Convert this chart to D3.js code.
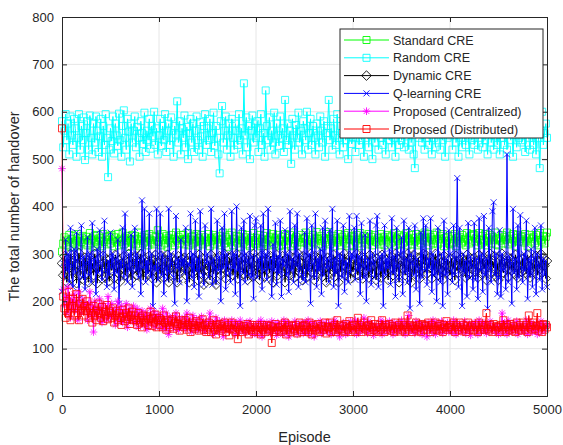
<!DOCTYPE html>
<html>
<head>
<meta charset="utf-8">
<script src="https://cdn.jsdelivr.net/npm/d3@7"></script>
<style>
  body { margin: 0; background: #fff; }
  text { font-family: "Liberation Sans", Arial, sans-serif; fill: #262626; }
</style>
</head>
<body>
<div id="chart"></div>
<script>
// episodes sampled every 12.5 (401 points)
var episodes = d3.range(401).map(i => i * 12.5);

var standardCRE = [
  305, 322, 335, 318, 330, 326, 340, 315, 332, 324, 338, 320, 328, 342, 316, 334, 325, 338, 322, 330,
  336, 318, 328, 344, 322, 332, 315, 338, 326, 340, 320, 334, 328, 316, 342, 325, 336, 320, 330, 338,
  322, 340, 328, 316, 335, 324, 342, 318, 330, 326, 345, 320, 334, 328, 338, 315, 332, 326, 340, 322,
  338, 320, 332, 345, 316, 328, 336, 322, 340, 326, 334, 318, 342, 330, 324, 338, 320, 335, 328, 350,
  325, 335, 318, 342, 330, 322, 338, 315, 334, 328, 340, 324, 332, 318, 345, 328, 336, 322, 340, 330,
  340, 320, 332, 326, 344, 318, 330, 336, 322, 338, 326, 342, 316, 334, 328, 340, 320, 335, 324, 330,
  326, 342, 316, 334, 328, 340, 320, 335, 324, 330, 338, 318, 332, 345, 322, 336, 328, 315, 340, 326,
  345, 318, 332, 326, 338, 322, 336, 315, 330, 342, 324, 335, 320, 340, 328, 316, 334, 326, 344, 322,
  320, 334, 328, 340, 316, 332, 325, 338, 322, 344, 330, 318, 336, 326, 342, 320, 334, 328, 340, 316,
  330, 318, 336, 326, 342, 320, 334, 328, 340, 316, 332, 345, 322, 336, 318, 330, 326, 340, 324, 334,
  332, 345, 322, 336, 318, 330, 326, 340, 324, 334, 346, 320, 332, 328, 338, 316, 334, 324, 342, 330,
  346, 320, 332, 328, 338, 316, 334, 324, 342, 330, 318, 336, 326, 340, 322, 332, 344, 316, 330, 338,
  318, 336, 326, 340, 322, 332, 344, 316, 330, 338, 324, 334, 320, 342, 328, 336, 318, 330, 340, 326,
  324, 334, 320, 342, 328, 336, 318, 330, 340, 326, 335, 322, 338, 326, 344, 318, 332, 328, 340, 320,
  335, 322, 338, 326, 344, 318, 332, 328, 340, 320, 334, 326, 342, 318, 336, 330, 322, 340, 328, 345,
  334, 326, 342, 318, 336, 330, 322, 340, 328, 345, 320, 332, 338, 324, 342, 316, 334, 328, 336, 322,
  320, 332, 338, 324, 342, 316, 334, 328, 336, 322, 340, 326, 332, 318, 344, 330, 322, 338, 326, 342,
  340, 326, 332, 318, 344, 330, 322, 338, 326, 342, 318, 334, 328, 340, 322, 336, 330, 345, 320, 332,
  318, 334, 328, 340, 322, 336, 330, 345, 320, 332, 338, 324, 342, 328, 316, 334, 340, 326, 332, 336,
  338, 324, 342, 328, 316, 334, 340, 326, 332, 336, 322, 340, 328, 318, 344, 330, 326, 338, 322, 336,
  345
];

var randomCRE = [
  580, 525, 560, 595, 540, 575, 510, 590, 550, 530, 585, 565, 505, 545, 595, 520, 570, 540, 588, 498,
  555, 580, 520, 592, 545, 510, 575, 535, 590, 560, 515, 548, 585, 505, 570, 530, 595, 545, 462, 520,
  565, 538, 590, 512, 575, 550, 528, 596, 540, 505, 570, 603, 545, 520, 585, 558, 495, 575, 535, 560,
  590, 525, 568, 545, 505, 580, 555, 532, 598, 515, 560, 540, 585, 522, 570, 548, 600, 530, 565, 510,
  550, 585, 528, 570, 540, 595, 515, 560, 575, 530, 588, 545, 505, 570, 552, 622, 535, 580, 510, 565,
  545, 592, 525, 568, 500, 555, 585, 535, 575, 515, 560, 590, 540, 520, 578, 548, 505, 570, 595, 530,
  565, 540, 585, 515, 555, 598, 528, 570, 545, 510, 470, 580, 612, 535, 560, 590, 520, 550, 575, 505,
  585, 545, 520, 575, 560, 530, 595, 540, 565, 510, 660, 550, 588, 525, 570, 500, 560, 592, 535, 575,
  545, 580, 515, 565, 595, 530, 555, 505, 645, 570, 540, 588, 520, 560, 535, 598, 510, 575, 550, 528,
  590, 545, 565, 515, 625, 540, 575, 530, 560, 490, 585, 550, 520, 572, 545, 598, 535, 560, 510, 580,
  565, 540, 600, 520, 555, 585, 530, 570, 545, 510, 575, 550, 525, 590, 560, 535, 580, 505, 555, 570,
  625, 540, 565, 520, 585, 550, 530, 595, 545, 510, 570, 555, 525, 588, 540, 565, 500, 578, 550, 532,
  545, 575, 515, 560, 590, 530, 555, 540, 580, 505, 565, 545, 595, 525, 570, 550, 500, 585, 535, 560,
  585, 520, 560, 545, 600, 530, 565, 510, 575, 550, 540, 590, 525, 560, 545, 505, 578, 555, 530, 570,
  540, 590, 525, 560, 548, 575, 520, 595, 535, 560, 510, 481, 560, 575, 545, 590, 615, 535, 555, 520,
  570, 545, 600, 530, 560, 510, 580, 545, 525, 595, 550, 575, 520, 560, 540, 590, 505, 565, 545, 580,
  550, 575, 520, 560, 590, 535, 565, 505, 580, 545, 525, 595, 555, 530, 570, 548, 510, 585, 540, 565,
  530, 595, 555, 520, 575, 545, 600, 525, 565, 540, 580, 510, 555, 590, 535, 560, 520, 575, 548, 530,
  585, 510, 560, 545, 590, 530, 570, 520, 555, 600, 540, 565, 505, 580, 550, 525, 595, 545, 570, 535,
  540, 575, 515, 560, 590, 545, 520, 580, 550, 530, 565, 510, 585, 545, 481, 560, 600, 530, 555, 575,
  545
];

var dynamicCRE = [
  280, 255, 295, 262, 240, 290, 270, 300, 248, 285, 265, 295, 238, 278, 302, 255, 285, 268, 245, 292,
  258, 285, 240, 295, 268, 280, 255, 300, 272, 238, 290, 262, 278, 248, 296, 270, 252, 288, 275, 242,
  290, 265, 282, 248, 298, 275, 260, 288, 242, 280, 270, 295, 255, 285, 262, 300, 275, 245, 290, 268,
  270, 295, 255, 285, 262, 300, 275, 245, 290, 268, 282, 258, 296, 270, 250, 288, 265, 298, 240, 280,
  282, 258, 296, 270, 250, 288, 265, 298, 240, 280, 272, 292, 255, 285, 268, 240, 295, 275, 260, 290,
  272, 292, 255, 285, 268, 240, 295, 275, 260, 290, 265, 285, 245, 298, 272, 258, 290, 235, 280, 268,
  265, 285, 245, 298, 272, 258, 290, 235, 280, 268, 295, 255, 282, 270, 300, 248, 285, 262, 292, 275,
  295, 255, 282, 270, 300, 248, 285, 262, 292, 275, 258, 290, 272, 245, 296, 268, 282, 252, 300, 265,
  258, 290, 272, 245, 296, 268, 282, 252, 300, 265, 285, 260, 295, 275, 240, 290, 270, 298, 255, 282,
  285, 260, 295, 275, 240, 290, 270, 298, 255, 282, 268, 292, 250, 285, 272, 300, 262, 280, 245, 295,
  268, 292, 250, 285, 272, 300, 262, 280, 245, 295, 275, 258, 290, 265, 298, 252, 285, 270, 240, 292,
  275, 258, 290, 265, 298, 252, 285, 270, 240, 292, 262, 288, 275, 300, 255, 282, 268, 295, 248, 278,
  262, 288, 275, 300, 255, 282, 268, 295, 248, 278, 290, 265, 282, 250, 298, 272, 258, 288, 275, 245,
  290, 265, 282, 250, 298, 272, 258, 288, 275, 245, 285, 268, 295, 255, 280, 300, 262, 290, 240, 275,
  285, 268, 295, 255, 280, 300, 262, 290, 240, 275, 298, 258, 282, 270, 292, 248, 285, 265, 300, 272,
  298, 258, 282, 270, 292, 248, 285, 265, 300, 272, 255, 290, 268, 282, 245, 296, 275, 260, 288, 270,
  255, 290, 268, 282, 245, 296, 275, 260, 288, 270, 292, 262, 285, 250, 298, 275, 258, 290, 268, 282,
  292, 262, 285, 250, 298, 275, 258, 290, 268, 282, 245, 288, 272, 300, 260, 285, 270, 295, 252, 280,
  245, 288, 272, 300, 260, 285, 270, 295, 252, 280, 290, 265, 282, 258, 298, 275, 250, 288, 270, 262,
  290, 265, 282, 258, 298, 275, 250, 288, 270, 262, 280, 296, 255, 285, 268, 300, 260, 292, 275, 248,
  285
];

var qlearningCRE = [
  220, 280, 250, 330, 265, 300, 240, 355, 275, 230, 310, 260, 345, 285, 205, 270, 360, 250, 295, 225,
  280, 335, 255, 300, 240, 365, 270, 290, 215, 310, 260, 350, 280, 245, 300, 370, 265, 230, 285, 255,
  345, 270, 300, 225, 290, 260, 330, 195, 285, 270, 355, 250, 385, 275, 240, 300, 265, 340, 230, 280,
  355, 265, 300, 250, 290, 215, 413, 270, 395, 240, 285, 260, 385, 250, 300, 190, 275, 265, 395, 245,
  270, 385, 255, 300, 215, 290, 270, 245, 395, 260, 300, 280, 250, 195, 380, 270, 290, 240, 330, 275,
  290, 260, 355, 200, 280, 275, 385, 250, 300, 230, 370, 265, 290, 210, 390, 270, 255, 235, 360, 280,
  300, 250, 280, 395, 235, 290, 270, 240, 370, 265, 295, 200, 355, 270, 385, 225, 300, 275, 260, 240,
  390, 270, 300, 215, 400, 265, 290, 190, 355, 260, 370, 240, 300, 285, 255, 380, 250, 295, 205, 360,
  375, 250, 290, 270, 360, 225, 385, 265, 300, 245, 395, 270, 290, 210, 320, 265, 365, 235, 295, 260,
  370, 210, 290, 275, 350, 255, 300, 220, 390, 265, 290, 240, 360, 275, 385, 230, 300, 270, 255, 245,
  345, 240, 375, 265, 300, 195, 360, 280, 250, 385, 230, 290, 265, 310, 215, 355, 255, 370, 270, 290,
  240, 350, 270, 395, 230, 290, 260, 370, 190, 300, 290, 250, 360, 220, 285, 275, 240, 380, 260, 300,
  290, 355, 245, 380, 265, 295, 215, 365, 275, 250, 340, 200, 290, 265, 370, 235, 300, 280, 250, 360,
  380, 230, 295, 265, 300, 190, 360, 255, 290, 270, 310, 235, 375, 260, 295, 210, 355, 275, 245, 300,
  335, 215, 370, 260, 290, 240, 355, 185, 300, 280, 255, 360, 225, 290, 270, 195, 345, 250, 375, 265,
  360, 235, 290, 270, 375, 220, 300, 255, 285, 200, 355, 265, 240, 300, 190, 370, 255, 290, 215, 350,
  300, 265, 240, 360, 255, 290, 460, 230, 355, 270, 190, 300, 260, 285, 210, 365, 250, 295, 275, 225,
  365, 245, 290, 205, 375, 265, 300, 220, 380, 255, 290, 185, 355, 270, 240, 390, 409, 255, 300, 215,
  250, 350, 210, 300, 265, 290, 225, 510, 240, 295, 280, 195, 395, 260, 290, 225, 360, 250, 382, 270,
  240, 300, 265, 370, 205, 290, 255, 310, 230, 290, 355, 215, 300, 275, 245, 360, 225, 290, 255, 285,
  230
];

var proposedCentralized = [
  480, 225, 190, 210, 175, 230, 195, 165, 205, 185, 215, 180, 200, 160, 220, 190, 175, 205, 185, 195,
  185, 160, 195, 220, 170, 190, 135, 200, 175, 185, 165, 205, 180, 155, 195, 170, 188, 160, 210, 175,
  165, 195, 170, 180, 150, 185, 200, 160, 175, 190, 155, 180, 165, 195, 145, 175, 185, 160, 170, 190,
  155, 170, 185, 145, 175, 160, 180, 150, 165, 175, 140, 170, 155, 185, 150, 165, 178, 145, 160, 172,
  155, 170, 145, 185, 160, 140, 175, 155, 130, 165, 150, 168, 142, 160, 175, 150, 138, 165, 155, 145,
  150, 165, 140, 175, 155, 145, 160, 135, 170, 150, 145, 162, 138, 155, 148, 168, 140, 158, 135, 152,
  145, 160, 175, 140, 155, 130, 150, 165, 145, 135, 158, 142, 150, 125, 160, 145, 138, 155, 148, 140,
  160, 140, 150, 130, 155, 145, 135, 160, 150, 140, 148, 132, 155, 142, 138, 158, 145, 130, 150, 142,
  145, 130, 155, 140, 160, 125, 150, 140, 135, 155, 142, 148, 132, 158, 138, 145, 150, 128, 155, 140,
  140, 150, 130, 160, 145, 135, 155, 125, 150, 140, 148, 135, 158, 142, 130, 152, 145, 138, 155, 132,
  155, 135, 145, 160, 130, 150, 140, 155, 125, 145, 138, 150, 142, 158, 132, 148, 140, 155, 135, 145,
  140, 155, 130, 150, 145, 160, 135, 150, 140, 125, 148, 138, 155, 142, 130, 152, 145, 135, 158, 140,
  150, 140, 160, 130, 145, 155, 135, 150, 140, 165, 142, 150, 132, 158, 145, 138, 152, 128, 148, 140,
  135, 150, 145, 160, 130, 155, 140, 150, 135, 145, 158, 138, 148, 130, 155, 142, 150, 135, 145, 152,
  160, 140, 150, 130, 155, 145, 170, 135, 150, 140, 148, 132, 158, 142, 138, 155, 145, 130, 150, 142,
  145, 125, 155, 140, 150, 135, 160, 145, 130, 155, 142, 148, 138, 158, 132, 150, 145, 140, 155, 135,
  140, 150, 135, 160, 145, 130, 155, 140, 150, 135, 148, 142, 158, 132, 145, 138, 152, 128, 150, 145,
  155, 140, 145, 130, 160, 150, 135, 145, 155, 140, 132, 150, 142, 158, 138, 145, 150, 135, 148, 140,
  130, 150, 140, 175, 135, 155, 145, 130, 160, 140, 148, 135, 152, 142, 138, 158, 130, 150, 145, 140,
  150, 135, 145, 160, 130, 150, 140, 155, 135, 145, 138, 152, 130, 148, 142, 158, 135, 150, 140, 148,
  150
];

var proposedDistributed = [
  565, 210, 185, 165, 200, 175, 220, 160, 190, 205, 170, 185, 215, 175, 160, 195, 180, 205, 170, 190,
  180, 200, 165, 185, 175, 155, 190, 170, 180, 160, 195, 175, 165, 188, 158, 178, 170, 192, 162, 180,
  175, 165, 185, 155, 170, 180, 160, 175, 165, 150, 182, 168, 158, 175, 162, 185, 152, 170, 178, 160,
  170, 160, 150, 175, 155, 165, 145, 170, 160, 155, 168, 150, 162, 178, 148, 165, 155, 172, 145, 160,
  165, 150, 160, 145, 170, 155, 140, 160, 150, 145, 158, 162, 142, 155, 168, 148, 152, 138, 160, 150,
  155, 145, 160, 140, 150, 165, 135, 155, 145, 150, 142, 158, 148, 138, 155, 145, 162, 140, 150, 135,
  140, 155, 145, 135, 150, 160, 140, 130, 150, 145, 152, 138, 148, 142, 155, 135, 145, 150, 128, 142,
  155, 140, 150, 135, 145, 120, 150, 140, 145, 135, 148, 142, 138, 152, 130, 145, 140, 150, 135, 145,
  140, 150, 135, 145, 130, 150, 140, 145, 135, 150, 142, 138, 148, 112, 145, 135, 152, 140, 145, 138,
  145, 135, 150, 140, 155, 130, 145, 150, 140, 135, 148, 142, 138, 150, 132, 145, 155, 140, 135, 148,
  150, 140, 145, 135, 155, 140, 130, 150, 145, 140, 138, 152, 142, 135, 148, 145, 140, 155, 132, 145,
  145, 155, 135, 145, 140, 150, 135, 160, 140, 150, 142, 138, 148, 135, 152, 145, 140, 158, 135, 148,
  140, 150, 135, 145, 165, 140, 150, 135, 145, 155, 142, 148, 138, 150, 135, 160, 145, 140, 152, 138,
  145, 135, 150, 140, 160, 145, 135, 150, 140, 145, 152, 138, 148, 142, 135, 155, 145, 140, 150, 136,
  155, 140, 150, 135, 145, 170, 140, 150, 145, 135, 148, 142, 155, 138, 150, 145, 135, 152, 140, 148,
  150, 140, 155, 145, 135, 150, 140, 145, 155, 140, 148, 138, 152, 142, 135, 150, 145, 158, 140, 145,
  145, 150, 140, 155, 135, 150, 145, 140, 155, 145, 138, 150, 142, 135, 148, 155, 140, 145, 150, 138,
  140, 150, 145, 135, 155, 140, 150, 145, 140, 150, 175, 142, 138, 150, 145, 135, 152, 140, 148, 145,
  145, 135, 150, 140, 160, 145, 135, 150, 145, 140, 152, 138, 148, 142, 135, 155, 145, 140, 150, 138,
  155, 145, 140, 150, 135, 170, 145, 150, 140, 155, 142, 148, 175, 138, 150, 145, 135, 152, 140, 150,
  145
];

var seriesNames = ["Standard CRE", "Random CRE", "Dynamic CRE", "Q-learning CRE",
  "Proposed (Centralized)", "Proposed (Distributed)"];
var seriesColors = ["#00ff00", "#00ffff", "#000000", "#0000ff", "#ff00ff", "#ff0000"];
var seriesMarkers = ["square", "square", "diamond", "x", "star", "square"];
var seriesValues = [standardCRE, randomCRE, dynamicCRE, qlearningCRE,
  proposedCentralized, proposedDistributed];

var xTicks = [0, 1000, 2000, 3000, 4000, 5000];
var yTicks = [0, 100, 200, 300, 400, 500, 600, 700, 800];

var svgWidth = 563;
var svgHeight = 445;
var margin = { top: 17, right: 16, bottom: 49, left: 62 };
var width = svgWidth - margin.left - margin.right;
var height = svgHeight - margin.top - margin.bottom;

var svg = d3.select("#chart")
  .append("svg")
  .attr("width", svgWidth)
  .attr("height", svgHeight);

var chartGroup = svg.append("g")
  .attr("transform", `translate(${margin.left}, ${margin.top})`);

var xScale = d3.scaleLinear().domain([0, 5000]).range([0, width]);
var yScale = d3.scaleLinear().domain([0, 800]).range([height, 0]);

// grid
chartGroup.append("g").selectAll("line")
  .data(xTicks.slice(1, -1))
  .enter().append("line")
  .attr("x1", d => xScale(d)).attr("x2", d => xScale(d))
  .attr("y1", 0).attr("y2", height)
  .attr("stroke", "#e6e6e6").attr("stroke-width", 1);

chartGroup.append("g").selectAll("line")
  .data(yTicks.slice(1, -1))
  .enter().append("line")
  .attr("x1", 0).attr("x2", width)
  .attr("y1", d => yScale(d)).attr("y2", d => yScale(d))
  .attr("stroke", "#e6e6e6").attr("stroke-width", 1);

// marker paths
function markerPath(type) {
  if (type === "square") return "M-3.5,-3.5H3.5V3.5H-3.5Z";
  if (type === "diamond") return "M0,-4.8L4.8,0L0,4.8L-4.8,0Z";
  if (type === "x") return "M-3,-3L3,3M-3,3L3,-3";
  if (type === "star") return "M-3.8,0H3.8M0,-3.8V3.8M-2.7,-2.7L2.7,2.7M-2.7,2.7L2.7,-2.7";
  return "";
}

var line = d3.line()
  .x((d, i) => xScale(episodes[i]))
  .y(d => yScale(d));

var plotArea = chartGroup.append("g");

seriesValues.forEach(function(values, s) {
  var g = plotArea.append("g");
  g.append("path")
    .datum(values)
    .attr("d", line)
    .attr("fill", "none")
    .attr("stroke", seriesColors[s])
    .attr("stroke-width", 1);

  g.selectAll("path.m")
    .data(values)
    .enter().append("path")
    .attr("class", "m")
    .attr("transform", (d, i) => `translate(${xScale(episodes[i])},${yScale(d)})`)
    .attr("d", markerPath(seriesMarkers[s]))
    .attr("fill", "none")
    .attr("stroke", seriesColors[s])
    .attr("stroke-width", 0.8);
});

// axes
var bottomAxis = d3.axisBottom(xScale).tickValues(xTicks).tickSize(-5).tickPadding(9).tickFormat(d3.format("d"));
var leftAxis = d3.axisLeft(yScale).tickValues(yTicks).tickSize(-5).tickPadding(8).tickFormat(d3.format("d"));
var topAxis = d3.axisTop(xScale).tickValues(xTicks).tickSize(-5).tickFormat("");
var rightAxis = d3.axisRight(yScale).tickValues(yTicks).tickSize(-5).tickFormat("");

[
  chartGroup.append("g").attr("transform", `translate(0, ${height})`).call(bottomAxis),
  chartGroup.append("g").call(leftAxis),
  chartGroup.append("g").call(topAxis),
  chartGroup.append("g").attr("transform", `translate(${width}, 0)`).call(rightAxis)
].forEach(function(ax) {
  ax.selectAll("path.domain").attr("stroke", "#262626").attr("stroke-width", 1);
  ax.selectAll(".tick line").attr("stroke", "#262626");
  ax.selectAll(".tick text")
    .attr("font-size", 13)
    .attr("font-family", "Liberation Sans, Arial, sans-serif")
    .attr("fill", "#262626");
});

// axis labels
chartGroup.append("text")
  .attr("x", width / 2)
  .attr("y", height + 46)
  .attr("text-anchor", "middle")
  .attr("font-size", 14.5)
  .text("Episode");

chartGroup.append("text")
  .attr("transform", "rotate(-90)")
  .attr("x", -height / 2)
  .attr("y", -43)
  .attr("text-anchor", "middle")
  .attr("font-size", 14.5)
  .text("The total number of handover");

// legend
var legend = svg.append("g").attr("transform", "translate(340, 29)");
legend.append("rect")
  .attr("width", 203)
  .attr("height", 109)
  .attr("fill", "#fff")
  .attr("stroke", "#262626")
  .attr("stroke-width", 1);

seriesNames.forEach(function(name, s) {
  var y = 11 + s * 17.8;
  var row = legend.append("g").attr("transform", `translate(0, ${y})`);
  row.append("line")
    .attr("x1", 4).attr("x2", 49)
    .attr("stroke", seriesColors[s]).attr("stroke-width", 1);
  row.append("path")
    .attr("transform", "translate(26.5, 0)")
    .attr("d", markerPath(seriesMarkers[s]))
    .attr("fill", "none")
    .attr("stroke", seriesColors[s])
    .attr("stroke-width", 0.9);
  row.append("text")
    .attr("x", 53)
    .attr("y", 4.5)
    .attr("font-size", 12.5)
    .text(name);
});
</script>
</body>
</html>
